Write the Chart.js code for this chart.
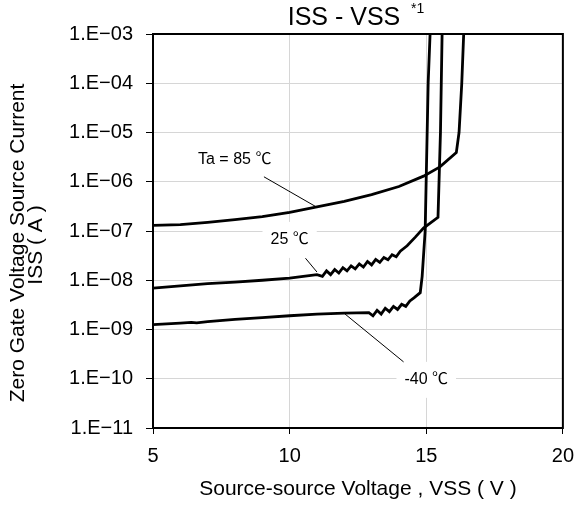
<!DOCTYPE html>
<html>
<head>
<meta charset="utf-8">
<script src="https://cdn.jsdelivr.net/npm/chart.js@4.4.1/dist/chart.umd.min.js"></script>
<style>
  html, body { margin: 0; padding: 0; background: #fff; }
</style>
</head>
<body>
<canvas id="issChart" width="584" height="506"></canvas>
<script>
// Ta = 85 C
const v85 = [5, 6, 7, 8, 9, 10, 11, 12, 13, 14, 14.9, 15.5, 16.1, 16.2, 16.3, 16.37];
const i85 = [1.3e-7, 1.35e-7, 1.5e-7, 1.7e-7, 1.95e-7, 2.4e-7, 3.1e-7, 4.0e-7, 5.5e-7, 8.0e-7, 1.3e-6, 2.0e-6, 3.9e-6, 1e-5, 1e-4, 1e-3];

// Ta = 25 C
const v25 = [5, 6, 7, 8, 9, 10, 10.5, 11, 11.2, 11.35, 11.5, 11.65, 11.8, 11.95, 12.1, 12.25, 12.4, 12.55, 12.7, 12.85, 13.0, 13.15, 13.3, 13.45, 13.6, 13.75, 13.9, 14.05, 14.3, 14.6, 14.9, 15.43, 15.52, 15.58];
const i25 = [6.9e-9, 7.7e-9, 8.5e-9, 9.2e-9, 1.0e-8, 1.1e-8, 1.2e-8, 1.3e-8, 1.2e-8, 1.55e-8, 1.3e-8, 1.65e-8, 1.4e-8, 1.8e-8, 1.55e-8, 1.95e-8, 1.7e-8, 2.15e-8, 1.85e-8, 2.4e-8, 2.05e-8, 2.65e-8, 2.3e-8, 2.9e-8, 2.6e-8, 3.3e-8, 3.0e-8, 3.9e-8, 5.0e-8, 7.5e-8, 1.15e-7, 1.9e-7, 1e-5, 1e-3];

// Ta = -40 C
const vM40 = [5, 6, 6.4, 6.6, 7, 8, 9, 10, 11, 12, 12.9, 13.05, 13.2, 13.35, 13.5, 13.65, 13.8, 13.95, 14.1, 14.25, 14.4, 14.55, 14.78, 14.85, 14.96, 15.07, 15.14];
const iM40 = [1.26e-9, 1.35e-9, 1.4e-9, 1.36e-9, 1.45e-9, 1.6e-9, 1.75e-9, 1.9e-9, 2.05e-9, 2.15e-9, 2.2e-9, 1.9e-9, 2.45e-9, 2.05e-9, 2.7e-9, 2.3e-9, 2.95e-9, 2.55e-9, 3.25e-9, 2.95e-9, 3.8e-9, 4.4e-9, 5.6e-9, 1.2e-8, 1e-7, 1e-4, 1e-3];

const xTicks = [5, 10, 15, 20];
const yExponents = [-11, -10, -9, -8, -7, -6, -5, -4, -3];

const FONT = "'Liberation Sans', Arial, 'Noto Sans CJK JP', sans-serif";

function pairs(xs, ys) {
  return xs.map((v, i) => ({ x: v, y: ys[i] }));
}

function curve(label, xs, ys) {
  return {
    label: label,
    data: pairs(xs, ys),
    showLine: true,
    borderColor: "#000",
    borderWidth: 2.8,
    pointRadius: 0,
    tension: 0,
    fill: false,
  };
}

// curve labels: text position and leader line in data units
const notes = [
  { text: "Ta = 85 \u2103", at: [7.99, 2.8e-6], from: [9.06, 1.26e-6], to: [10.97, 3.1e-7], box: false },
  { text: "25 \u2103", at: [10.0, 6.6e-8], from: [10.58, 2.8e-8], to: [11.0, 1.47e-8], box: true },
  { text: "-40 \u2103", at: [15.0, 9.5e-11], from: [14.17, 2.2e-10], to: [12.01, 2.1e-9], box: true },
];

const decorations = {
  id: "decorations",
  beforeDatasetsDraw(chart) {
    const { ctx, scales: { x, y } } = chart;
    ctx.save();
    ctx.font = "16px " + FONT;
    ctx.textAlign = "center";
    ctx.textBaseline = "middle";
    notes.forEach(n => {
      const px = x.getPixelForValue(n.at[0]);
      const py = y.getPixelForValue(n.at[1]);
      const w = ctx.measureText(n.text).width;
      if (n.box) {
        ctx.fillStyle = "#fff";
        ctx.fillRect(px - w / 2 - 8, py - 18, w + 16, 36);
      }
      ctx.fillStyle = "#000";
      ctx.fillText(n.text, px, py);
      ctx.strokeStyle = "#000";
      ctx.lineWidth = 1;
      ctx.beginPath();
      ctx.moveTo(x.getPixelForValue(n.from[0]), y.getPixelForValue(n.from[1]));
      ctx.lineTo(x.getPixelForValue(n.to[0]), y.getPixelForValue(n.to[1]));
      ctx.stroke();
    });
    ctx.restore();
  },
  afterDraw(chart) {
    const { ctx, chartArea: a } = chart;
    ctx.save();
    // plot frame
    ctx.strokeStyle = "#000";
    ctx.lineWidth = 2;
    ctx.strokeRect(a.left, a.top, a.right - a.left, a.bottom - a.top);

    // title with superscript note
    ctx.fillStyle = "#000";
    ctx.textBaseline = "middle";
    ctx.textAlign = "center";
    ctx.font = "25px " + FONT;
    ctx.fillText("ISS - VSS", 344, 18);
    ctx.textAlign = "left";
    ctx.font = "14px " + FONT;
    ctx.fillText("*1", 411, 9);

    // y axis title, two lines
    ctx.font = "21px " + FONT;
    ctx.textAlign = "center";
    ctx.translate(18, 243);
    ctx.rotate(-Math.PI / 2);
    ctx.fillText("Zero Gate Voltage Source Current", 0, 0);
    ctx.fillText("ISS ( A )", -2, 18);
    ctx.restore();
  }
};

const ctx = document.getElementById("issChart").getContext("2d");

new Chart(ctx, {
  type: "scatter",
  data: {
    datasets: [
      curve("85", v85, i85),
      curve("25", v25, i25),
      curve("-40", vM40, iM40),
    ],
  },
  options: {
    responsive: false,
    animation: false,
    layout: { padding: { top: 34, right: 14, left: 0, bottom: 0 } },
    plugins: {
      legend: { display: false },
      tooltip: { enabled: false },
      title: { display: false },
    },
    scales: {
      x: {
        type: "linear",
        min: 5,
        max: 20,
        afterBuildTicks: axis => { axis.ticks = xTicks.map(v => ({ value: v })); },
        afterFit: axis => { axis.height = 78; },
        ticks: {
          color: "#000",
          font: { family: FONT, size: 20 },
          padding: 10,
        },
        grid: { color: "#d6d6d6", lineWidth: 1, tickLength: 6, tickColor: "#000" },
        border: { display: true, color: "#000", width: 2 },
        title: {
          display: true,
          text: "Source-source Voltage , VSS ( V )",
          color: "#000",
          font: { family: FONT, size: 21 },
          padding: { top: 0, bottom: 4 },
        },
      },
      y: {
        type: "logarithmic",
        min: 1e-11,
        max: 1e-3,
        afterBuildTicks: axis => { axis.ticks = yExponents.map(e => ({ value: Math.pow(10, e) })); },
        afterFit: axis => { axis.width = 153; },
        ticks: {
          color: "#000",
          font: { family: FONT, size: 20 },
          padding: 13,
          callback: value => {
            const e = Math.round(Math.log10(value));
            const d = String(Math.abs(e)).padStart(2, "0");
            return "1.E" + (e < 0 ? "\u2212" : "+") + d;
          },
        },
        grid: { color: "#d6d6d6", lineWidth: 1, tickLength: 7, tickColor: "#000" },
        border: { display: true, color: "#000", width: 2 },
      },
    },
  },
  plugins: [decorations],
});
</script>
</body>
</html>
